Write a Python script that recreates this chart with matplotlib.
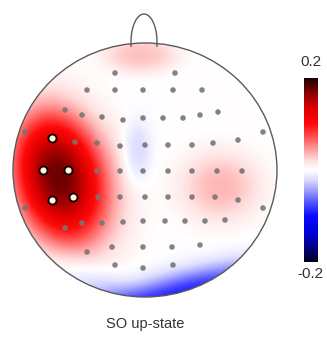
import numpy as np
import matplotlib
matplotlib.use("Agg")
import matplotlib.pyplot as plt
from matplotlib.colors import LinearSegmentedColormap
from matplotlib.patches import Ellipse

plt.rcParams['font.family'] = ['Liberation Sans', 'DejaVu Sans']

# electrode positions (pixel coords of the reference picture)
elec_x = [115, 175,
          87, 115, 143, 173, 202,
          65, 82, 102, 123, 143, 163, 183, 200, 218,
          25, 52, 75, 97, 120, 145, 168, 192, 213, 238, 263,
          43, 68, 97, 120, 143, 168, 192, 217, 242,
          25, 52, 73, 98, 120, 145, 168, 192, 215, 238, 263,
          65, 82, 102, 123, 143, 165, 185, 205, 225,
          87, 112, 143, 172, 200,
          115, 143, 173]
elec_y = [73, 73,
          90, 90, 90, 90, 90,
          110, 115, 117, 120, 118, 118, 118, 115, 112,
          132, 138, 142, 143, 146, 145, 145, 145, 143, 140, 132,
          170, 170, 171, 171, 171, 171, 171, 171, 171,
          208, 200, 197, 197, 197, 197, 197, 197, 197, 200, 208,
          228, 223, 223, 222, 221, 221, 221, 221, 220,
          252, 247, 247, 247, 245,
          265, 268, 265]
# significant electrodes
sig_x = [52, 43, 68, 52, 73]
sig_y = [138, 170, 170, 200, 197]

# correlation sources: centre, spread, tilt, peak r, profile sharpness
src_x = [58, 64, 140, 220, 136, 188, 95]
src_y = [176, 182, 54, 186, 152, 300, 285]
src_sx = [30, 48, 30, 30, 11, 85, 40]
src_sy = [46, 64, 15, 26, 24, 22, 14]
src_ang = [-15, -15, 0, 0, 0, -14, 30]
src_r = [0.13, 0.045, 0.03, 0.035, -0.025, -0.095, -0.025]
src_p = [1.2, 1.5, 1.5, 1.2, 1.2, 1.3, 1.0]

cx, cy, rx, ry = 145, 170, 132, 127

cmap = LinearSegmentedColormap.from_list("rb", [
    (0.0, "#00001e"), (0.04, "#000050"), (0.1, "#0000a0"), (0.17, "#0000e0"),
    (0.25, "#0a0aff"), (0.32, "#5050ff"), (0.4, "#aaaaff"), (0.45, "#dedeff"),
    (0.5, "#ffffff"),
    (0.55, "#ffdede"), (0.6, "#ffaaaa"), (0.68, "#ff5050"), (0.75, "#ff0a0a"),
    (0.83, "#e00000"), (0.9, "#a00000"), (0.96, "#500000"), (1.0, "#1e0000")])

fig = plt.figure(figsize=(3.27, 3.43), dpi=100)
ax = fig.add_axes([0, 0, 1, 1])
ax.set_xlim(0, 327)
ax.set_ylim(343, 0)
ax.axis("off")

gx, gy = np.meshgrid(np.arange(0, 300, 1.0), np.arange(30, 310, 1.0))
field = np.zeros_like(gx)
for x0, y0, sx, sy, a, r, p in zip(src_x, src_y, src_sx, src_sy, src_ang, src_r, src_p):
    t = np.deg2rad(a)
    dx, dy = gx - x0, gy - y0
    u = dx * np.cos(t) + dy * np.sin(t)
    v = -dx * np.sin(t) + dy * np.cos(t)
    field += r * np.exp(-0.5 * ((u / sx) ** 2 + (v / sy) ** 2) ** p)

im = ax.imshow(field, extent=(0, 300, 310, 30), cmap=cmap, vmin=-0.2, vmax=0.2,
               interpolation="bilinear", zorder=1)
head = Ellipse((cx, cy), 2 * rx, 2 * ry, fc="none", ec="#5a5a5a", lw=1.0, zorder=3)
ax.add_patch(head)
clip = Ellipse((cx, cy), 2 * rx, 2 * ry, transform=ax.transData)
im.set_clip_path(clip)

# nose
tt = np.linspace(-0.15, np.pi + 0.15, 60)
ax.plot(144 + 13 * np.cos(tt), 42 - 28 * np.sin(tt), color="#5a5a5a", lw=1.0, zorder=3)

ax.scatter(elec_x, elec_y, s=16, c="#767676", edgecolors="none", alpha=0.9, zorder=4)
ax.scatter(sig_x, sig_y, s=34, c="#fff8e0", edgecolors="#1a0000", linewidths=1.4, zorder=5)

cax = fig.add_axes([304 / 327, 1 - 262 / 343, 14 / 327, 184 / 343])
cb = fig.colorbar(im, cax=cax)
cb.set_ticks([])
cb.outline.set_visible(False)
ax.text(311, 62, "0.2", ha="center", va="center", fontsize=11, color="#333333")
ax.text(310, 274, "-0.2", ha="center", va="center", fontsize=11, color="#333333")
ax.text(310, 172, "r", ha="center", va="center", fontsize=7, style="italic", color="#444444", zorder=6)

ax.text(145, 324, "SO up-state", ha="center", va="center", fontsize=10.5, color="#333333")

fig.savefig("out.png", dpi=100)
